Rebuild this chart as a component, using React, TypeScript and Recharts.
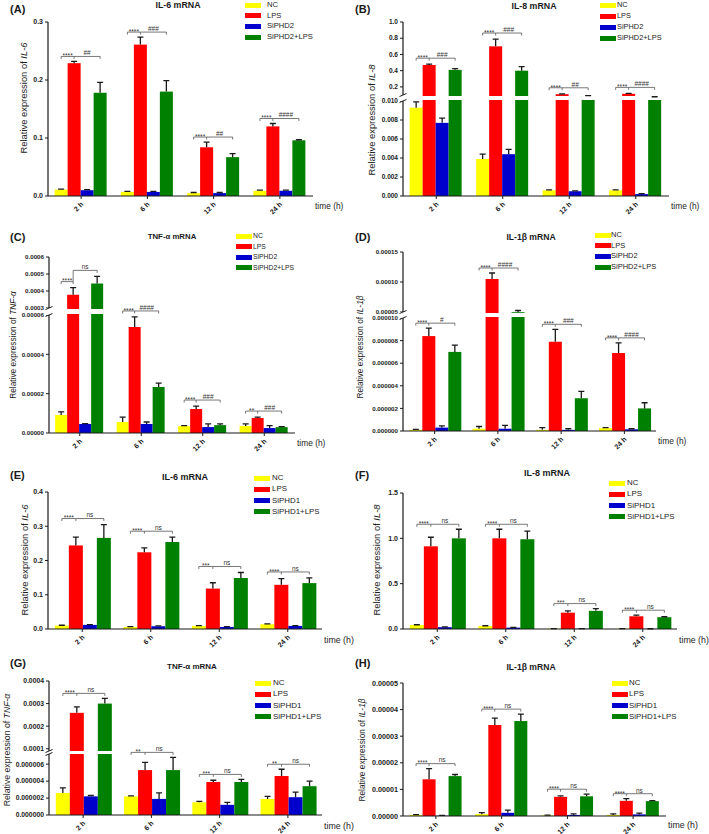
import React from 'react';
import { BarChart, Bar, XAxis, YAxis } from 'recharts';

const TIMES = ['2 h', '6 h', '12 h', '24 h'];

// (A) IL-6, siPHD2
const A_NC = [0.011, 0.007, 0.005, 0.009];
const A_NC_ERR = [0.001, 0.001, 0.001, 0.001];
const A_LPS = [0.229, 0.261, 0.084, 0.12];
const A_LPS_ERR = [0.003, 0.013, 0.009, 0.005];
const A_SI = [0.01, 0.007, 0.005, 0.009];
const A_SI_ERR = [0.001, 0.001, 0.001, 0.001];
const A_CO = [0.178, 0.18, 0.067, 0.096];
const A_CO_ERR = [0.018, 0.019, 0.006, 0.001];
const A_SIG_LPS = ['****', '****', '****', '****'];
const A_SIG_CO = ['##', '###', '##', '####'];
const A_TICKS = [0, 0.1, 0.2, 0.3];

// (B) IL-8, siPHD2
const B_NC = [0.0093, 0.0039, 0.0006, 0.0006];
const B_NC_ERR = [0.0006, 0.0005, 0.00005, 0.00005];
const B_LPS = [0.47, 0.7, 0.11, 0.115];
const B_LPS_ERR = [0.01, 0.09, 0.005, 0.005];
const B_SI = [0.0077, 0.0044, 0.0005, 0.0002];
const B_SI_ERR = [0.0005, 0.0005, 0.00005, 0.00005];
const B_CO = [0.41, 0.4, 0.085, 0.07];
const B_CO_ERR = [0.015, 0.05, 0.005, 0.004];
const B_SIG_LPS = ['****', '****', '****', '****'];
const B_SIG_CO = ['###', '###', '##', '####'];
const B_TICKS_LOW = [0, 0.002, 0.004, 0.006, 0.008, 0.01];
const B_TICKS_HIGH = [0.2, 0.4, 0.6, 0.8, 1.0];

// (C) TNF-a, siPHD2
const C_NC = [0.0000092, 0.0000056, 0.0000035, 0.0000036];
const C_NC_ERR = [0.0000015, 0.0000025, 0.0000003, 0.000001];
const C_LPS = [0.000378, 0.0000539, 0.0000122, 0.0000076];
const C_LPS_ERR = [0.000042, 0.0000051, 0.0000015, 0.0000005];
const C_SI = [0.0000046, 0.0000046, 0.000003, 0.0000025];
const C_SI_ERR = [0.0000002, 0.000001, 0.0000016, 0.0000012];
const C_CO = [0.000444, 0.0000234, 0.000004, 0.000003];
const C_CO_ERR = [0.000042, 0.000002, 0.0000006, 0.0000002];
const C_SIG_LPS = ['****', '****', '****', '**'];
const C_SIG_CO = ['ns', '####', '###', '###'];
const C_TICKS_LOW = [0, 0.00002, 0.00004, 0.00006];
const C_TICKS_HIGH = [0.0003, 0.0004, 0.0005, 0.0006];

// (D) IL-1b, siPHD2
const D_NC = [0.0000001, 0.0000002, 0.0000001, 0.00000025];
const D_NC_ERR = [0.00000005, 0.0000002, 0.0000002, 0.00000005];
const D_LPS = [0.0000084, 0.000105, 0.0000079, 0.0000069];
const D_LPS_ERR = [0.0000007, 0.00001, 0.0000011, 0.0000009];
const D_SI = [0.0000003, 0.0000002, 0.0000001, 0.00000015];
const D_SI_ERR = [0.00000015, 0.0000003, 0.0000001, 0.00000005];
const D_CO = [0.000007, 0.0000485, 0.0000029, 0.000002];
const D_CO_ERR = [0.0000006, 0.000004, 0.0000006, 0.0000005];
const D_SIG_LPS = ['****', '****', '****', '****'];
const D_SIG_CO = ['#', '####', '###', '####'];
const D_TICKS_LOW = [0, 0.000002, 0.000004, 0.000006, 0.000008, 0.00001];
const D_TICKS_HIGH = [0.00005, 0.0001, 0.00015];

// (E) IL-6, siPHD1
const E_NC = [0.01, 0.006, 0.009, 0.014];
const E_NC_ERR = [0.001, 0.001, 0.001, 0.001];
const E_LPS = [0.244, 0.224, 0.118, 0.129];
const E_LPS_ERR = [0.024, 0.013, 0.017, 0.018];
const E_SI = [0.012, 0.008, 0.006, 0.009];
const E_SI_ERR = [0.001, 0.001, 0.001, 0.001];
const E_CO = [0.266, 0.254, 0.149, 0.134];
const E_CO_ERR = [0.039, 0.014, 0.016, 0.015];
const E_SIG_LPS = ['****', '****', '***', '****'];
const E_SIG_CO = ['ns', 'ns', 'ns', 'ns'];
const E_TICKS = [0, 0.1, 0.2, 0.3, 0.4];

// (F) IL-8, siPHD1
const F_NC = [0.044, 0.033, 0.004, 0.004];
const F_NC_ERR = [0.003, 0.003, 0.001, 0.001];
const F_LPS = [0.912, 1.0, 0.18, 0.14];
const F_LPS_ERR = [0.1, 0.1, 0.02, 0.012];
const F_SI = [0.02, 0.015, 0.003, 0.002];
const F_SI_ERR = [0.003, 0.003, 0.001, 0.001];
const F_CO = [1.0, 0.99, 0.2, 0.13];
const F_CO_ERR = [0.1, 0.09, 0.025, 0.005];
const F_SIG_LPS = ['****', '****', '***', '****'];
const F_SIG_CO = ['ns', 'ns', 'ns', 'ns'];
const F_TICKS = [0, 0.5, 1.0, 1.5];

// (G) TNF-a, siPHD1
const G_NC = [0.0000026, 0.0000022, 0.0000015, 0.0000019];
const G_NC_ERR = [0.0000006, 0.00000005, 0.0000001, 0.0000003];
const G_LPS = [0.000259, 0.0000053, 0.0000039, 0.0000046];
const G_LPS_ERR = [0.000026, 0.0000009, 0.0000002, 0.0000008];
const G_SI = [0.0000022, 0.0000019, 0.0000012, 0.0000021];
const G_SI_ERR = [0.0000001, 0.0000007, 0.0000003, 0.0000006];
const G_CO = [0.0003, 0.0000053, 0.0000039, 0.0000034];
const G_CO_ERR = [0.000023, 0.0000015, 0.0000003, 0.0000006];
const G_SIG_LPS = ['****', '**', '***', '**'];
const G_SIG_CO = ['ns', 'ns', 'ns', 'ns'];
const G_TICKS_LOW = [0, 0.000002, 0.000004, 0.000006];
const G_TICKS_HIGH = [0.0001, 0.0002, 0.0003, 0.0004];

// (H) IL-1b, siPHD1
const H_NC = [0.0000004, 0.0000007, 0.0000002, 0.0000004];
const H_NC_ERR = [0.0000001, 0.0000006, 0.0000001, 0.0000004];
const H_LPS = [0.0000138, 0.0000342, 0.0000072, 0.0000057];
const H_LPS_ERR = [0.000004, 0.0000026, 0.0000004, 0.0000008];
const H_SI = [0.0000001, 0.0000012, 0.0000004, 0.0000006];
const H_SI_ERR = [0.0000001, 0.000001, 0.0000004, 0.0000005];
const H_CO = [0.000015, 0.0000357, 0.0000074, 0.0000056];
const H_CO_ERR = [0.0000006, 0.0000026, 0.0000008, 0.0000002];
const H_SIG_LPS = ['****', '****', '****', '****'];
const H_SIG_CO = ['ns', 'ns', 'ns', 'ns'];
const H_TICKS = [0, 0.00001, 0.00002, 0.00003, 0.00004, 0.00005];

const FONT = '"Liberation Sans", Arial, Helvetica, sans-serif';
const INK = '#1a1a1a';
const KEYS = ['nc', 'lps', 'si', 'co'];
const COLORS: Record<string, string> = { nc: '#FFFF00', lps: '#FF0000', si: '#0000CC', co: '#008000' };

type Seg = { lo: number; hi: number; len: number; ticks: number[]; dec: number };

// axis segments are in pixel-like units; a second segment means a broken axis
const PANELS: any[] = [
  {
    id: 'A', title: 'IL-6 mRNA', gene: 'IL-6', siName: 'SiPHD2',
    v: [A_NC, A_NC_ERR, A_LPS, A_LPS_ERR, A_SI, A_SI_ERR, A_CO, A_CO_ERR], sig: [A_SIG_LPS, A_SIG_CO],
    segs: [{ lo: 0, hi: 0.3, len: 174, ticks: A_TICKS, dec: 1 }], gap: 0, stripe: 0,
    L: { left: 0, axisX: 48, top: 22, bottom: 196, right: 313, letter: [10, 9], title: [178, 5, 8.8], legend: [245, 267, 5, 10.7, 7.6], ylab: [24, 98, 9.4], time: [315, 206, 8.4], tickFont: 7, off: 5 },
  },
  {
    id: 'B', title: 'IL-8 mRNA', gene: 'IL-8', siName: 'SiPHD2',
    v: [B_NC, B_NC_ERR, B_LPS, B_LPS_ERR, B_SI, B_SI_ERR, B_CO, B_CO_ERR], sig: [B_SIG_LPS, B_SIG_CO],
    segs: [{ lo: 0, hi: 0.01, len: 95, ticks: B_TICKS_LOW, dec: 3 }, { lo: 0.1, hi: 1.0, len: 73, ticks: B_TICKS_HIGH, dec: 1 }], gap: 6, stripe: 4,
    L: { left: 354, axisX: 403, top: 22, bottom: 196, right: 669, letter: [355, 9], title: [534, 6, 8.8], legend: [600, 617, 5, 11, 7.4], ylab: [372, 120, 9.4], time: [671, 206, 8.4], tickFont: 6.5, off: 6 },
  },
  {
    id: 'C', title: 'TNF-α mRNA', gene: 'TNF-α', siName: 'SiPHD2',
    v: [C_NC, C_NC_ERR, C_LPS, C_LPS_ERR, C_SI, C_SI_ERR, C_CO, C_CO_ERR], sig: [C_SIG_LPS, C_SIG_CO],
    segs: [{ lo: 0, hi: 0.00006, len: 118, ticks: C_TICKS_LOW, dec: 5 }, { lo: 0.0003, hi: 0.0006, len: 51, ticks: C_TICKS_HIGH, dec: 4 }], gap: 7, stripe: 5,
    L: { left: 0, axisX: 49, top: 257, bottom: 433, right: 295, letter: [10, 237], title: [172, 237, 7.8], legend: [236, 253, 236, 10.5, 6.8], ylab: [13, 345, 8.3], time: [297, 443, 8.4], tickFont: 6.2, off: 6, split: true },
  },
  {
    id: 'D', title: 'IL-1β mRNA', gene: 'IL-1β', siName: 'SiPHD2',
    v: [D_NC, D_NC_ERR, D_LPS, D_LPS_ERR, D_SI, D_SI_ERR, D_CO, D_CO_ERR], sig: [D_SIG_LPS, D_SIG_CO],
    segs: [{ lo: 0, hi: 0.00001, len: 113, ticks: D_TICKS_LOW, dec: 6 }, { lo: 0.00005, hi: 0.00015, len: 60, ticks: D_TICKS_HIGH, dec: 5 }], gap: 6, stripe: 4,
    L: { left: 354, axisX: 403, top: 252, bottom: 431, right: 656, letter: [355, 237], title: [531, 237, 8.6], legend: [595, 611, 235, 10.7, 7.5], ylab: [360, 347, 8.3], time: [658, 441, 8.4], tickFont: 6.2, off: 5 },
  },
  {
    id: 'E', title: 'IL-6 mRNA', gene: 'IL-6', siName: 'SiPHD1',
    v: [E_NC, E_NC_ERR, E_LPS, E_LPS_ERR, E_SI, E_SI_ERR, E_CO, E_CO_ERR], sig: [E_SIG_LPS, E_SIG_CO],
    segs: [{ lo: 0, hi: 0.4, len: 137, ticks: E_TICKS, dec: 1 }], gap: 0, stripe: 0,
    L: { left: 0, axisX: 48, top: 492, bottom: 629, right: 322, letter: [10, 475], title: [185, 477, 9], legend: [254, 272, 478, 11.3, 7.9], ylab: [25, 560, 9.4], time: [324, 640, 8.8], tickFont: 7, off: 6 },
  },
  {
    id: 'F', title: 'IL-8 mRNA', gene: 'IL-8', siName: 'SiPHD1',
    v: [F_NC, F_NC_ERR, F_LPS, F_LPS_ERR, F_SI, F_SI_ERR, F_CO, F_CO_ERR], sig: [F_SIG_LPS, F_SIG_CO],
    segs: [{ lo: 0, hi: 1.5, len: 136, ticks: F_TICKS, dec: 1 }], gap: 0, stripe: 0,
    L: { left: 354, axisX: 403, top: 493, bottom: 629, right: 677, letter: [355, 475], title: [547, 473, 9], legend: [609, 627, 483, 11.3, 7.9], ylab: [377, 560, 9.4], time: [679, 640, 8.8], tickFont: 7, off: 5 },
  },
  {
    id: 'G', title: 'TNF-α mRNA', gene: 'TNF-α', siName: 'SiPHD1',
    v: [G_NC, G_NC_ERR, G_LPS, G_LPS_ERR, G_SI, G_SI_ERR, G_CO, G_CO_ERR], sig: [G_SIG_LPS, G_SIG_CO],
    segs: [{ lo: 0, hi: 0.0000072, len: 61, ticks: G_TICKS_LOW, dec: 6 }, { lo: 0.00009, hi: 0.0004, len: 70, ticks: G_TICKS_HIGH, dec: 4 }], gap: 3, stripe: 3,
    L: { left: 0, axisX: 49, top: 681, bottom: 815, right: 322, letter: [10, 663], title: [192, 667, 8], legend: [255, 273, 683, 11.3, 8], ylab: [7, 750, 8.7], time: [324, 826, 8.8], tickFont: 6.8, off: 5 },
  },
  {
    id: 'H', title: 'IL-1β mRNA', gene: 'IL-1β', siName: 'SiPHD1',
    v: [H_NC, H_NC_ERR, H_LPS, H_LPS_ERR, H_SI, H_SI_ERR, H_CO, H_CO_ERR], sig: [H_SIG_LPS, H_SIG_CO],
    segs: [{ lo: 0, hi: 0.00005, len: 133, ticks: H_TICKS, dec: 5 }], gap: 0, stripe: 0,
    L: { left: 354, axisX: 403, top: 683, bottom: 816, right: 666, letter: [355, 663], title: [531, 667, 8.6], legend: [612, 629, 683, 11.3, 7.9], ylab: [362, 750, 8.3], time: [668, 825, 8.8], tickFont: 7.2, off: 5 },
  },
];

function buildScale(segs: Seg[], gap: number, stripe: number) {
  const s0 = segs[0];
  const s1 = segs[1];
  const T = (v: number) => {
    if (!s1 || v <= s0.hi) return ((v - s0.lo) / (s0.hi - s0.lo)) * s0.len;
    if (v < s1.lo) return s0.len + ((v - s0.hi) / (s1.lo - s0.hi)) * gap;
    return s0.len + gap + ((v - s1.lo) / (s1.hi - s1.lo)) * s1.len;
  };
  const total = s0.len + (s1 ? gap + s1.len : 0);
  const ticks: { d: number; label: string; brk?: boolean }[] = [];
  if (s1) ticks.push({ d: s0.len + gap / 2, label: '', brk: true });
  segs.forEach((s) => s.ticks.forEach((t) => ticks.push({ d: T(t), label: t.toFixed(s.dec) })));
  const stripeLo = s0.len + (gap - stripe) / 2;
  return { T, total, ticks, gap: s1 ? gap : 0, stripe: s1 ? stripe : 0, stripeLo, stripeHi: stripeLo + stripe };
}

function makeBarShape(key: string, sc: any, L: any) {
  return (props: any) => {
    const { x, y, width, height, payload, background } = props;
    const raw = payload.raw;
    const hasBg = background && background.height > 0;
    const plotH = hasBg ? background.height : L.bottom - L.top;
    const base = hasBg ? background.y + background.height : y + height;
    const k = plotH / sc.total;
    const pd = (d: number) => base - d * k;
    const pv = (v: number) => pd(sc.T(v));
    const v = raw[key];
    const e = raw[key + 'Err'];
    const cx = x + width / 2;
    const parts: any[] = [];
    parts.push(<rect key="bar" x={x} y={y} width={width} height={Math.max(height, 0)} fill={COLORS[key]} />);
    if (sc.stripe && sc.T(v) > sc.stripeLo) {
      const a = pd(Math.min(sc.T(v), sc.stripeHi));
      const b = pd(sc.stripeLo);
      parts.push(<rect key="gap" x={x - 0.5} y={a} width={width + 1} height={b - a} fill="#fff" />);
    }
    if (e > 0) {
      const t = pv(v + e);
      const c = Math.min(3, width * 0.25);
      parts.push(
        <path key="err" d={`M${cx},${pv(v)}V${t}M${cx - c},${t}H${cx + c}`} stroke={INK} strokeWidth={1.3} fill="none" />
      );
    }
    if (key === 'lps') {
      const tops = KEYS.map((kk) => pv(raw[kk] + raw[kk + 'Err']));
      let y1 = Math.min(...tops) - L.off;
      let y2 = y1;
      if (L.split) {
        y1 = Math.min(tops[0], tops[1]) - L.off;
        y2 = Math.min(tops[1], tops[2], tops[3]) - L.off;
      }
      const ncC = x - width / 2;
      const lpsC = x + width / 2;
      const coC = x + 2.5 * width;
      const tk = 2.5;
      const s1: string = payload.sig1;
      const s2: string = payload.sig2;
      const ty = (s: string, yy: number) => (s.startsWith('*') ? yy + 1.8 : yy - 1.2);
      parts.push(
        <g key="br" stroke="#555" strokeWidth={0.8} fill="none">
          <path d={`M${ncC},${y1 + tk}V${y1}H${lpsC}`} />
          <path d={`M${lpsC},${y2}H${coC}V${y2 + tk}`} />
          <path d={`M${lpsC},${Math.min(y1, y2)}V${Math.max(y1, y2) + tk}`} />
        </g>
      );
      parts.push(
        <text key="t1" x={(ncC + lpsC) / 2} y={ty(s1, y1)} textAnchor="middle" fontSize={6.5} fill="#333" fontFamily={FONT}>{s1}</text>
      );
      parts.push(
        <text key="t2" x={(lpsC + coC) / 2} y={ty(s2, y2)} textAnchor="middle" fontSize={6.5} fill="#333" fontFamily={FONT}>{s2}</text>
      );
    }
    return <g>{parts}</g>;
  };
}

function Panel({ p }: { p: any }) {
  const L = p.L;
  const sc = buildScale(p.segs, p.gap, p.stripe);
  const [nc, ncErr, lps, lpsErr, si, siErr, co, coErr] = p.v;
  const rows = TIMES.map((t, i) => ({
    t,
    nc: sc.T(nc[i]),
    lps: sc.T(lps[i]),
    si: sc.T(si[i]),
    co: sc.T(co[i]),
    sig1: p.sig[0][i],
    sig2: p.sig[1][i],
    raw: { nc: nc[i], ncErr: ncErr[i], lps: lps[i], lpsErr: lpsErr[i], si: si[i], siErr: siErr[i], co: co[i], coErr: coErr[i] },
  }));
  const chartTop = L.top - 12;
  const chartH = L.bottom - chartTop + 30;
  const chartW = L.right - L.left + 4;
  const yW = L.axisX - L.left;

  const yTick = (props: any) => {
    const { y, payload } = props;
    const item = sc.ticks.find((tt) => Math.abs(tt.d - payload.value) < 1e-6);
    if (!item) return <g />;
    if (item.brk) {
      const h = sc.gap / 2;
      return (
        <g>
          <rect x={yW - 4.5} y={y - h} width={7} height={2 * h} fill="#fff" />
          <line x1={yW - 3.5} y1={y - h + 1.5} x2={yW + 3.5} y2={y - h - 1.5} stroke={INK} strokeWidth={1} />
          <line x1={yW - 3.5} y1={y + h + 1.5} x2={yW + 3.5} y2={y + h - 1.5} stroke={INK} strokeWidth={1} />
        </g>
      );
    }
    return (
      <text x={yW - 5} y={y} dy="0.35em" textAnchor="end" fontSize={L.tickFont} fontWeight="bold" fill={INK} fontFamily={FONT}>
        {item.label}
      </text>
    );
  };

  const xTick = (props: any) => {
    const { x, y, payload } = props;
    return (
      <text transform={`translate(${x + 1},${y + 2}) rotate(-45)`} dy="0.35em" textAnchor="end" fontSize={7} fontWeight="bold" fill={INK} fontFamily={FONT}>
        {payload.value}
      </text>
    );
  };

  const legendItems = ['NC', 'LPS', p.siName, p.siName + '+LPS'];
  const [ix, lx, ly0, lstep, lfont] = L.legend;

  return (
    <>
      <div style={{ position: 'absolute', left: L.letter[0], top: L.letter[1], transform: 'translateY(-50%)', fontSize: 11, fontWeight: 'bold', color: INK, lineHeight: 1 }}>
        ({p.id})
      </div>
      <div style={{ position: 'absolute', left: L.title[0], top: L.title[1], transform: 'translate(-50%,-50%)', fontSize: L.title[2], fontWeight: 'bold', color: INK, whiteSpace: 'nowrap', lineHeight: 1 }}>
        {p.title}
      </div>
      {legendItems.map((name, i) => (
        <React.Fragment key={name}>
          <div style={{ position: 'absolute', left: ix, top: ly0 + i * lstep - 2.5, width: 16, height: 5, background: COLORS[KEYS[i]] }} />
          <div style={{ position: 'absolute', left: lx, top: ly0 + i * lstep, transform: 'translateY(-50%)', fontSize: lfont, color: '#222', whiteSpace: 'nowrap', lineHeight: 1 }}>
            {name}
          </div>
        </React.Fragment>
      ))}
      <div style={{ position: 'absolute', left: L.ylab[0], top: L.ylab[1], transform: 'translate(-50%,-50%) rotate(-90deg)', fontSize: L.ylab[2], color: '#222', whiteSpace: 'nowrap', lineHeight: 1 }}>
        Relative expression of <i>{p.gene}</i>
      </div>
      <div style={{ position: 'absolute', left: L.time[0], top: L.time[1], transform: 'translateY(-50%)', fontSize: L.time[2], color: '#222', whiteSpace: 'nowrap', lineHeight: 1 }}>
        time (h)
      </div>
      <div style={{ position: 'absolute', left: L.left, top: chartTop }}>
        <BarChart width={chartW} height={chartH} data={rows} margin={{ top: 12, right: 4, bottom: 0, left: 0 }} barGap={0} barCategoryGap="10%">
          <XAxis dataKey="t" height={30} interval={0} tickSize={3} tickMargin={2} tick={xTick} tickLine={{ stroke: INK }} axisLine={{ stroke: INK, strokeWidth: 1.2 }} />
          <YAxis type="number" domain={[0, sc.total]} ticks={sc.ticks.map((tt) => tt.d)} interval={0} width={yW} tickSize={3} tick={yTick} tickLine={{ stroke: INK }} axisLine={{ stroke: INK, strokeWidth: 1.2 }} />
          {KEYS.map((k) => (
            <Bar key={k} dataKey={k} fill={COLORS[k]} isAnimationActive={false} shape={makeBarShape(k, sc, L)} />
          ))}
        </BarChart>
      </div>
    </>
  );
}

export default function App() {
  return (
    <div style={{ position: 'absolute', left: 0, top: 0, width: 709, height: 834, background: '#fff', fontFamily: FONT, overflow: 'hidden' }}>
      {PANELS.map((p) => (
        <Panel key={p.id} p={p} />
      ))}
    </div>
  );
}
